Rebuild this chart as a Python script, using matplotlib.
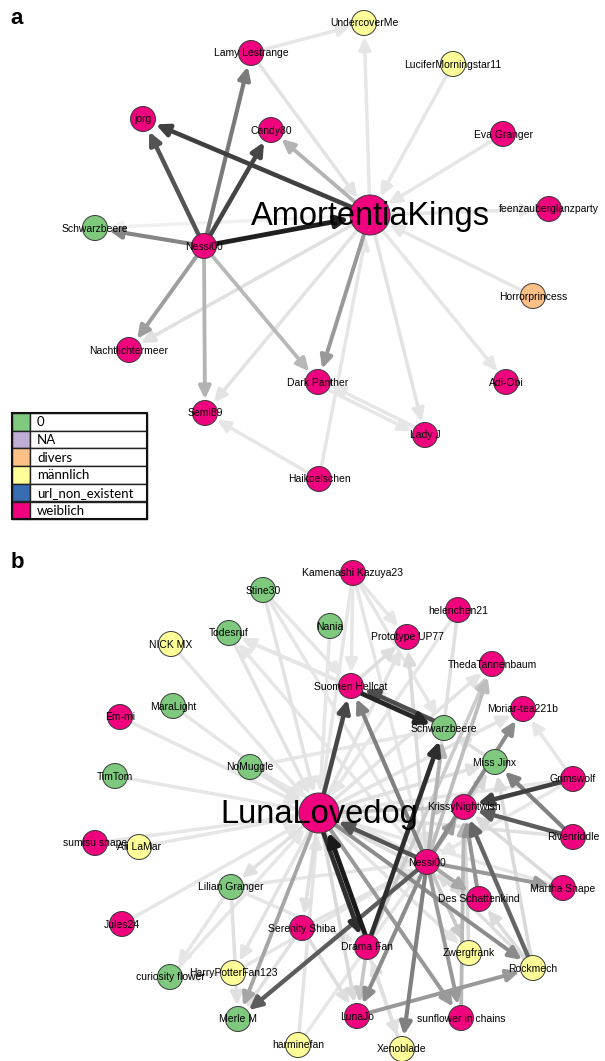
import matplotlib.pyplot as plt
from matplotlib.patches import Circle, FancyArrowPatch, Rectangle
import numpy as np

W, H = 605, 1061
DPI = 100

legend_labels = ['0', 'NA', 'divers', 'männlich', 'url_non_existent', 'weiblich']
legend_colors = ['#7fc97f', '#beaed4', '#fdc086', '#ffff99', '#386cb0', '#f0027f']
gender_color = dict(zip(legend_labels, legend_colors))

# ---- network a: AmortentiaKings -------------------------------------------
a_names = ['AmortentiaKings', 'Lamy Lestrange', 'jorg', 'Candy80', 'UndercoverMe',
           'LuciferMorningstar11', 'Eva Granger', 'feenzauberglanzparty',
           'Schwarzbeere', 'Nessi00', 'Horrorprincess', 'Nachtlichtermeer',
           'Dark Panther', 'Adi-Obi', 'Semi89', 'Lady J', 'Haikoelschen']
a_x = [370, 251, 143, 271, 364, 453, 503, 549, 95, 204, 533, 129, 318, 506, 205, 425, 319]
a_y = [215, 53, 119, 130, 23, 64, 134, 209, 228, 246, 296, 350, 382, 382, 413, 435, 479]
a_gender = ['weiblich', 'weiblich', 'weiblich', 'weiblich', 'männlich', 'männlich',
            'weiblich', 'weiblich', '0', 'weiblich', 'divers', 'weiblich', 'weiblich',
            'weiblich', 'weiblich', 'weiblich', 'weiblich']
# (source, target, grey level)
a_edges = [
    ('Nessi00', 'AmortentiaKings', 0.12),
    ('AmortentiaKings', 'jorg', 0.25),
    ('Nessi00', 'jorg', 0.33),
    ('Nessi00', 'Candy80', 0.27),
    ('Nessi00', 'Lamy Lestrange', 0.48),
    ('Nessi00', 'Schwarzbeere', 0.52),
    ('Nessi00', 'Nachtlichtermeer', 0.62),
    ('AmortentiaKings', 'Dark Panther', 0.6),
    ('Nessi00', 'Semi89', 0.7),
    ('Nessi00', 'Dark Panther', 0.72),
    ('AmortentiaKings', 'Candy80', 0.7),
    ('Lamy Lestrange', 'AmortentiaKings', 0.89),
    ('Lamy Lestrange', 'UndercoverMe', 0.9),
    ('AmortentiaKings', 'UndercoverMe', 0.9),
    ('LuciferMorningstar11', 'AmortentiaKings', 0.9),
    ('Eva Granger', 'AmortentiaKings', 0.9),
    ('AmortentiaKings', 'feenzauberglanzparty', 0.9),
    ('Horrorprincess', 'AmortentiaKings', 0.9),
    ('AmortentiaKings', 'Adi-Obi', 0.9),
    ('AmortentiaKings', 'Lady J', 0.89),
    ('Haikoelschen', 'AmortentiaKings', 0.9),
    ('AmortentiaKings', 'Semi89', 0.89),
    ('AmortentiaKings', 'Nachtlichtermeer', 0.88),
    ('AmortentiaKings', 'Schwarzbeere', 0.94),
    ('Dark Panther', 'Lady J', 0.9),
    ('Lady J', 'Dark Panther', 0.9),
    ('Haikoelschen', 'Semi89', 0.9),
]

# ---- network b: LunaLovedog -----------------------------------------------
b_names = ['LunaLovedog', 'Kamenashi Kazuya23', 'Stine30', 'helenchen21', 'Nania',
           'Todesruf', 'Prototype UP77', 'NICK MX', 'ThedaTannenbaum', 'MaraLight',
           'Suomen Hellcat', 'Em-mi', 'Moriar-tea221b', 'Schwarzbeere', 'NoMuggle',
           'Miss Jinx', 'TimTom', 'Grimswolf', 'KrissyNightwish', 'Rivenriddle',
           'sumisu snape', 'Ali LaMar', 'Nessi00', 'Martha Snape', 'Lilian Granger',
           'Des Schattenkind', 'Serenity Shiba', 'Jules24', 'Drama Fan', 'Zwergfrank',
           'Rockmech', 'HarryPotterFan123', 'curiosity flower', 'Merle M', 'LunaJo',
           'sunflower in chains', 'harminefan', 'Xenoblade']
b_x = [319, 353, 263, 458, 330, 229, 407, 171, 492, 173,
       351, 120, 523, 444, 250, 495, 115, 573, 464, 573,
       95, 139, 427, 563, 231, 479, 302, 122, 367, 469,
       533, 233, 170, 238, 357, 461, 298, 402]
b_y = [813, 573, 590, 610, 626, 633, 637, 644, 664, 706,
       686, 717, 709, 728, 767, 762, 776, 779, 807, 837,
       843, 847, 862, 888, 887, 899, 928, 924, 947, 953,
       968, 973, 977, 1019, 1016, 1018, 1045, 1049]
b_gender = ['weiblich', 'weiblich', '0', 'weiblich', '0',
            '0', 'weiblich', 'männlich', 'weiblich', '0',
            'weiblich', 'weiblich', 'weiblich', '0', '0',
            '0', '0', 'weiblich', 'weiblich', 'weiblich',
            'weiblich', 'männlich', 'weiblich', 'weiblich', '0',
            'weiblich', 'weiblich', 'weiblich', 'weiblich', 'männlich',
            'männlich', 'männlich', '0', '0', 'weiblich',
            'weiblich', 'männlich', 'männlich']
b_edges = [
    ('Drama Fan', 'LunaLovedog', 0.1),
    ('LunaLovedog', 'Drama Fan', 0.18),
    ('Drama Fan', 'Schwarzbeere', 0.18),
    ('LunaLovedog', 'Suomen Hellcat', 0.28),
    ('Suomen Hellcat', 'Schwarzbeere', 0.15),
    ('Schwarzbeere', 'Suomen Hellcat', 0.3),
    ('Nessi00', 'LunaLovedog', 0.33),
    ('Nessi00', 'Merle M', 0.36),
    ('Grimswolf', 'KrissyNightwish', 0.25),
    ('Rivenriddle', 'KrissyNightwish', 0.36),
    ('Rockmech', 'KrissyNightwish', 0.4),
    ('Rivenriddle', 'Miss Jinx', 0.5),
    ('Nessi00', 'Moriar-tea221b', 0.55),
    ('Nessi00', 'Suomen Hellcat', 0.5),
    ('Nessi00', 'Xenoblade', 0.5),
    ('Nessi00', 'LunaJo', 0.55),
    ('Nessi00', 'KrissyNightwish', 0.62),
    ('Nessi00', 'Martha Snape', 0.6),
    ('Nessi00', 'Des Schattenkind', 0.66),
    ('Nessi00', 'sunflower in chains', 0.6),
    ('LunaJo', 'Rockmech', 0.6),
    ('LunaLovedog', 'Rockmech', 0.55),
    ('LunaLovedog', 'Merle M', 0.65),
    ('LunaLovedog', 'sunflower in chains', 0.6),
    ('Des Schattenkind', 'KrissyNightwish', 0.58),
    ('sunflower in chains', 'KrissyNightwish', 0.72),
    ('Nessi00', 'ThedaTannenbaum', 0.74),
    ('Nessi00', 'Schwarzbeere', 0.7),
    ('LunaLovedog', 'KrissyNightwish', 0.78),
    ('Nessi00', 'Zwergfrank', 0.78),
    ('Drama Fan', 'LunaJo', 0.78),
    # light ties around LunaLovedog
    ('Stine30', 'LunaLovedog', 0.89),
    ('Todesruf', 'LunaLovedog', 0.89),
    ('NICK MX', 'LunaLovedog', 0.9),
    ('MaraLight', 'LunaLovedog', 0.9),
    ('Em-mi', 'LunaLovedog', 0.9),
    ('TimTom', 'LunaLovedog', 0.9),
    ('NoMuggle', 'LunaLovedog', 0.89),
    ('sumisu snape', 'LunaLovedog', 0.9),
    ('Ali LaMar', 'LunaLovedog', 0.9),
    ('Jules24', 'LunaLovedog', 0.9),
    ('LunaLovedog', 'Lilian Granger', 0.88),
    ('curiosity flower', 'LunaLovedog', 0.9),
    ('LunaLovedog', 'HarryPotterFan123', 0.89),
    ('LunaLovedog', 'Serenity Shiba', 0.88),
    ('harminefan', 'LunaLovedog', 0.89),
    ('Kamenashi Kazuya23', 'LunaLovedog', 0.9),
    ('Nania', 'LunaLovedog', 0.9),
    ('LunaLovedog', 'Prototype UP77', 0.89),
    ('helenchen21', 'LunaLovedog', 0.9),
    ('LunaLovedog', 'ThedaTannenbaum', 0.89),
    ('LunaLovedog', 'Moriar-tea221b', 0.89),
    ('LunaLovedog', 'Miss Jinx', 0.88),
    ('Grimswolf', 'LunaLovedog', 0.9),
    ('Rivenriddle', 'LunaLovedog', 0.88),
    ('Martha Snape', 'LunaLovedog', 0.9),
    ('LunaLovedog', 'Des Schattenkind', 0.86),
    ('LunaLovedog', 'Zwergfrank', 0.89),
    ('LunaLovedog', 'Xenoblade', 0.88),
    ('LunaLovedog', 'LunaJo', 0.85),
    # light ties around Nessi00 and others
    ('Kamenashi Kazuya23', 'Nessi00', 0.9),
    ('helenchen21', 'Nessi00', 0.88),
    ('Nessi00', 'Prototype UP77', 0.86),
    ('Nessi00', 'Todesruf', 0.9),
    ('Stine30', 'Nessi00', 0.9),
    ('NoMuggle', 'Nessi00', 0.9),
    ('Lilian Granger', 'Nessi00', 0.9),
    ('Serenity Shiba', 'Nessi00', 0.89),
    ('HarryPotterFan123', 'Nessi00', 0.9),
    ('harminefan', 'Nessi00', 0.9),
    ('Nessi00', 'Miss Jinx', 0.85),
    ('Grimswolf', 'Nessi00', 0.9),
    ('Rockmech', 'Nessi00', 0.87),
    ('Kamenashi Kazuya23', 'Suomen Hellcat', 0.9),
    ('Kamenashi Kazuya23', 'Prototype UP77', 0.9),
    ('Kamenashi Kazuya23', 'Schwarzbeere', 0.9),
    ('Schwarzbeere', 'Todesruf', 0.9),
    ('Suomen Hellcat', 'Todesruf', 0.9),
    ('Stine30', 'Suomen Hellcat', 0.9),
    ('NoMuggle', 'Schwarzbeere', 0.9),
    ('Lilian Granger', 'Merle M', 0.88),
    ('Lilian Granger', 'Drama Fan', 0.9),
    ('Lilian Granger', 'curiosity flower', 0.9),
    ('HarryPotterFan123', 'curiosity flower', 0.9),
    ('Serenity Shiba', 'LunaJo', 0.87),
    ('Serenity Shiba', 'Merle M', 0.88),
    ('Xenoblade', 'Drama Fan', 0.88),
    ('Zwergfrank', 'KrissyNightwish', 0.85),
    ('Grimswolf', 'Moriar-tea221b', 0.9),
    ('Martha Snape', 'KrissyNightwish', 0.86),
    ('Rockmech', 'Miss Jinx', 0.85),
    ('Rockmech', 'Des Schattenkind', 0.86),
    ('Miss Jinx', 'Schwarzbeere', 0.88),
    ('Suomen Hellcat', 'Prototype UP77', 0.87),
    ('Drama Fan', 'ThedaTannenbaum', 0.8),
]


def node_radius(name, hub):
    return 20 if name == hub else 12.5


def draw_network(ax, names, xs, ys, genders, edges, hub):
    pos = {n: np.array([x, y], float) for n, x, y in zip(names, xs, ys)}
    pairs = {(s, t) for s, t, _ in edges}
    # lightest ties first so the dark ones sit on top
    for s, t, g in sorted(edges, key=lambda e: -e[2]):
        p1, p2 = pos[s].copy(), pos[t].copy()
        if (t, s) in pairs:
            d = p2 - p1
            nrm = np.array([-d[1], d[0]]) / np.hypot(*d)
            p1 += nrm * 2.5
            p2 += nrm * 2.5
        rA = node_radius(s, hub) * 72 / DPI
        rB = node_radius(t, hub) * 72 / DPI + 1
        lw = 2.5 + (0.9 - g) * 1.2
        arr = FancyArrowPatch(p1, p2, arrowstyle='-|>,head_length=0.75,head_width=0.36',
                              mutation_scale=10, color=str(g), lw=lw,
                              shrinkA=rA, shrinkB=rB, zorder=2 + (1 - g))
        ax.add_patch(arr)
    for n, x, y, gd in zip(names, xs, ys, genders):
        ax.add_patch(Circle((x, y), node_radius(n, hub), facecolor=gender_color[gd],
                            edgecolor='#3a3a3a', lw=0.7, zorder=5))
        if n == hub:
            ax.text(x, y + 1, n, fontsize=23.5, ha='center', va='center',
                    family='Liberation Sans', zorder=6)
        else:
            ax.text(x, y + 0.5, n, fontsize=7.5, ha='center', va='center',
                    family='Liberation Sans', zorder=6)


fig = plt.figure(figsize=(W / DPI, H / DPI), dpi=DPI)
ax = fig.add_axes([0, 0, 1, 1])
ax.set_xlim(0, W)
ax.set_ylim(H, 0)
ax.axis('off')

draw_network(ax, a_names, a_x, a_y, a_gender, a_edges, 'AmortentiaKings')
draw_network(ax, b_names, b_x, b_y, b_gender, b_edges, 'LunaLovedog')

ax.text(17, 18, 'a', fontsize=16, fontweight='bold', ha='center', va='center',
        family='Liberation Sans')
ax.text(17, 563, 'b', fontsize=16, fontweight='bold', ha='center', va='center',
        family='Liberation Sans')

# legend box
lx0, lx1, sw1, ly0, row_h = 12, 147, 30, 413, 17.7
for i, (lab, col) in enumerate(zip(legend_labels, legend_colors)):
    y = ly0 + i * row_h
    ax.add_patch(Rectangle((lx0, y), sw1 - lx0, row_h, facecolor=col,
                           edgecolor='#222222', lw=1.0, zorder=7))
    ax.add_patch(Rectangle((sw1, y), lx1 - sw1, row_h, facecolor='white',
                           edgecolor='#222222', lw=1.0, zorder=7))
    ax.text(sw1 + 7, y + row_h / 2 + 0.5, lab, fontsize=9.5, ha='left', va='center',
            family='Lato', zorder=8)
ax.add_patch(Rectangle((lx0, ly0), lx1 - lx0, row_h * 6, fill=False,
                       edgecolor='#111111', lw=1.5, zorder=9))

fig.savefig('out.png', dpi=DPI)
